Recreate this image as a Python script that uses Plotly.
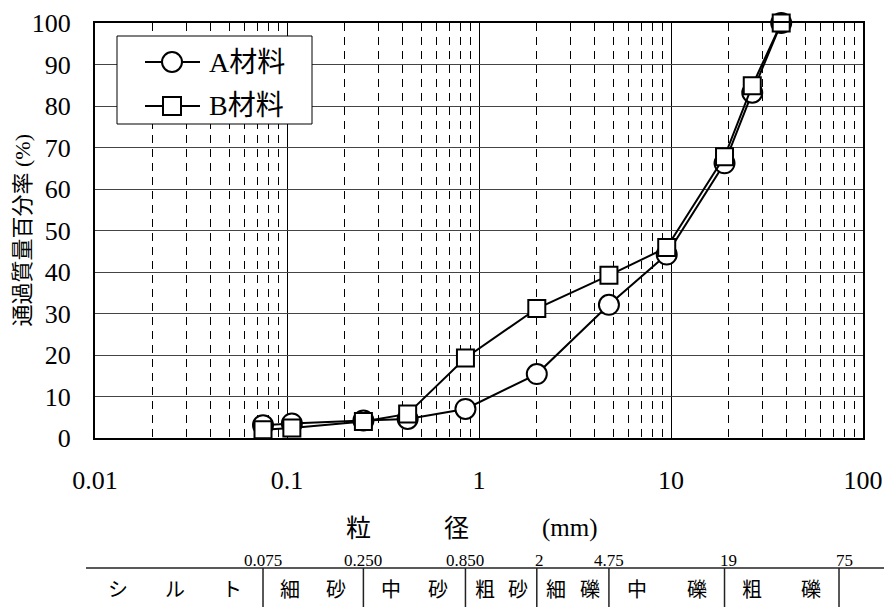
import math
import plotly.graph_objects as go

# ---- data ----
sieve_mm = [0.075, 0.106, 0.25, 0.425, 0.85, 2, 4.75, 9.5, 19, 26.5, 37.5]
pass_A = [3.1, 3.5, 4.2, 4.6, 7.0, 15.4, 32.1, 44.2, 66.2, 83.2, 100]
pass_B = [2.0, 2.4, 4.0, 5.8, 19.3, 31.2, 39.2, 45.9, 67.8, 84.9, 100]
series_names = ["A材料", "B材料"]

x_ticks = [0.01, 0.1, 1, 10, 100]
x_tick_text = ["0.01", "0.1", "1", "10", "100"]
y_ticks = list(range(0, 101, 10))

class_bounds = [0.075, 0.25, 0.85, 2, 4.75, 19, 75]
class_bound_text = ["0.075", "0.250", "0.850", "2", "4.75", "19", "75"]
class_names = ["シルト", "細砂", "中砂", "粗砂", "細礫", "中礫", "粗礫"]

# ---- layout constants ----
W, H = 884, 607
L, R, T, B = 95, 21, 23, 169
PW, PH = W - L - R, H - T - B
SERIF = "Liberation Serif, 'Noto Sans CJK JP', serif"


def px_to_paper_x(px):
    return (px - L) / PW


def px_to_paper_y(py):
    return (H - B - py) / PH


minor_vals = [d * k for d in [0.01, 0.1, 1, 10] for k in range(2, 10)]

fig = go.Figure()
fig.add_trace(go.Scatter(
    x=sieve_mm, y=pass_A, name=series_names[0], mode="lines+markers",
    line=dict(color="black", width=2),
    marker=dict(symbol="circle", size=20, color="white", line=dict(color="black", width=2)),
    cliponaxis=False, showlegend=False))
fig.add_trace(go.Scatter(
    x=sieve_mm, y=pass_B, name=series_names[1], mode="lines+markers",
    line=dict(color="black", width=2),
    marker=dict(symbol="square", size=17, color="white", line=dict(color="black", width=2)),
    cliponaxis=False, showlegend=False))

fig.update_layout(
    width=W, height=H,
    margin=dict(l=L, r=R, t=T, b=B, autoexpand=False),
    paper_bgcolor="white", plot_bgcolor="white",
    font=dict(family=SERIF, color="black", size=20),
    showlegend=False,
)

fig.update_xaxes(
    type="log", range=[-2, 2], automargin=False,
    tickmode="array", tickvals=x_ticks, ticktext=x_tick_text,
    tickfont=dict(family=SERIF, size=26), ticks="", ticklabelstandoff=18,
    showgrid=True, gridcolor="black", gridwidth=1,
    minor=dict(tickvals=minor_vals, showgrid=True, griddash="8px,6px",
               gridcolor="black", gridwidth=1, ticks=""),
    showline=True, linecolor="black", linewidth=2, mirror=True, zeroline=False,
)
fig.update_yaxes(
    range=[0, 100], tickmode="array", tickvals=y_ticks, automargin=False,
    tickfont=dict(family=SERIF, size=26), ticks="", ticklabelstandoff=17,
    showgrid=True, gridcolor="#444444", gridwidth=1,
    showline=True, linecolor="black", linewidth=2, mirror=True, zeroline=False,
)

ann = []
shapes = []

# legend box (drawn by hand so the key line is as long as the reference)
shapes.append(dict(type="rect", xref="paper", yref="paper",
                   x0=px_to_paper_x(117), x1=px_to_paper_x(312),
                   y0=px_to_paper_y(36), y1=px_to_paper_y(124),
                   line=dict(color="black", width=1), fillcolor="white", layer="above"))
for k, (name, sym) in enumerate(zip(series_names, ["circle", "rect"])):
    cy = 62 + 44 * k
    shapes.append(dict(type="line", xref="paper", yref="paper",
                       x0=px_to_paper_x(145), x1=px_to_paper_x(200),
                       y0=px_to_paper_y(cy), y1=px_to_paper_y(cy),
                       line=dict(color="black", width=2), layer="above"))
    r = 10 if sym == "circle" else 9
    shapes.append(dict(type=sym, xref="paper", yref="paper",
                       x0=px_to_paper_x(172 - r), x1=px_to_paper_x(172 + r),
                       y0=px_to_paper_y(cy - r), y1=px_to_paper_y(cy + r),
                       line=dict(color="black", width=2), fillcolor="white", layer="above"))
    ann.append(dict(text=name, x=px_to_paper_x(207), y=px_to_paper_y(cy), xref="paper", yref="paper",
                    showarrow=False, font=dict(family=SERIF, size=28),
                    xanchor="left", yanchor="middle"))

# y axis title
ann.append(dict(text="通過質量百分率 (%)", x=px_to_paper_x(22), y=0.5, xref="paper", yref="paper",
                textangle=-90, showarrow=False, font=dict(family=SERIF, size=22),
                xanchor="center", yanchor="middle"))
# x axis title pieces
for txt, px in [("粒", 358), ("径", 456), ("(mm)", 570)]:
    ann.append(dict(text=txt, x=px_to_paper_x(px), y=px_to_paper_y(528), xref="paper", yref="paper",
                    showarrow=False, font=dict(family=SERIF, size=25),
                    xanchor="center", yanchor="middle"))

# classification table
line_y = px_to_paper_y(568)
bottom_y = px_to_paper_y(607)
shapes.append(dict(type="line", xref="paper", yref="paper", x0=px_to_paper_x(86), x1=px_to_paper_x(884),
                   y0=line_y, y1=line_y, line=dict(color="#222222", width=1.5)))
for v in class_bounds:
    shapes.append(dict(type="line", xref="x", yref="paper", x0=v, x1=v, y0=line_y, y1=bottom_y,
                       line=dict(color="#222222", width=1.5)))
shift = {"2": 3, "19": 4, "75": 5}
for v, t in zip(class_bounds, class_bound_text):
    ann.append(dict(text=t, x=math.log10(v), y=px_to_paper_y(560), xref="x", yref="paper",
                    showarrow=False, font=dict(family=SERIF, size=17),
                    xanchor="center", yanchor="middle", xshift=shift.get(t, 0)))

# cell centers (log midpoints); first cell starts at the table line's left end
left_log = -2 + (86 - L) / PW * 4
edges = [left_log] + [math.log10(v) for v in class_bounds]
char_gap = [57, 46, 47, 33, 34, 60, 59]
for i, name in enumerate(class_names):
    c = (edges[i] + edges[i + 1]) / 2
    n = len(name)
    for j, ch in enumerate(name):
        off = (j - (n - 1) / 2) * char_gap[i]
        ann.append(dict(text=ch, x=c, y=px_to_paper_y(590), xref="x", yref="paper",
                        showarrow=False, font=dict(family=SERIF, size=20),
                        xanchor="center", yanchor="middle", xshift=off))

fig.update_layout(annotations=ann, shapes=shapes)
fig.write_html("out.html")
